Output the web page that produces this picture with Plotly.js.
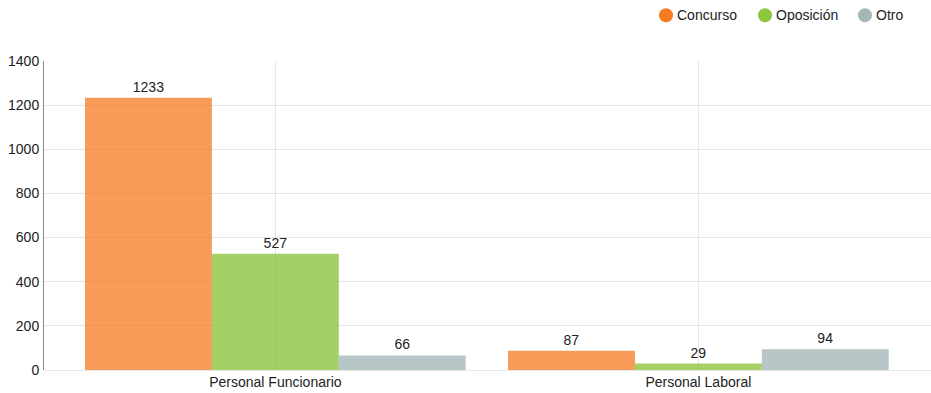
<!DOCTYPE html>
<html>
<head>
<meta charset="utf-8">
<script src="https://cdn.plot.ly/plotly-3.0.1.min.js"></script>
<style>html,body{margin:0;padding:0;background:#fff;}#chart{width:931px;height:393px;}</style>
</head>
<body>
<div id="chart"></div>
<script>
const categories = ["Personal Funcionario", "Personal Laboral"];
const seriesNames = ["Concurso", "Oposición", "Otro"];
const concurso = [1233, 87];
const oposicion = [527, 29];
const otro = [66, 94];
const barColors = ["rgba(244,123,32,0.75)", "rgba(141,198,63,0.8)", "rgba(165,184,184,0.8)"];
const legendColors = ["#f47b20", "#8dc63f", "#a5b8b8"];
const yTicks = [0, 200, 400, 600, 800, 1000, 1200, 1400];

const FONT = "Liberation Sans, Arial, sans-serif";
const W = 931, H = 393;
const M = {l: 44, r: 0, t: 61, b: 23};
const pw = W - M.l - M.r, ph = H - M.t - M.b;
const px2x = p => (p - M.l) / pw;
const py2y = p => (H - M.b - p) / ph;

const values = [concurso, oposicion, otro];
const traces = values.map((v, i) => ({
  type: "bar", x: categories, y: v, name: seriesNames[i],
  marker: {color: barColors[i], line: {width: 0}},
  text: v.map(String), textposition: "outside", cliponaxis: false,
  textfont: {family: FONT, size: 14, color: "#222"},
  showlegend: false, hoverinfo: "x+y"
}));

// legend drawn as circles + text
const legendCircleX = [666, 765, 865];
const legendY = 15.3;
const shapes = [], annotations = [];
seriesNames.forEach((n, i) => {
  shapes.push({type: "circle", xref: "paper", yref: "paper",
    xsizemode: "pixel", ysizemode: "pixel",
    xanchor: px2x(legendCircleX[i]), yanchor: py2y(legendY),
    x0: -7, x1: 7, y0: -7, y1: 7,
    fillcolor: legendColors[i], line: {width: 0}});
  annotations.push({xref: "paper", yref: "paper", x: px2x(legendCircleX[i] + 9), y: py2y(legendY),
    xanchor: "left", yanchor: "middle", showarrow: false, text: n,
    font: {family: FONT, size: 14, color: "#222"}});
});

const layout = {
  width: W, height: H,
  margin: M,
  paper_bgcolor: "#fff", plot_bgcolor: "#fff",
  font: {family: FONT, size: 14, color: "#222"},
  barmode: "group", bargap: 0.1, bargroupgap: 0,
  showlegend: false,
  shapes: shapes, annotations: annotations,
  xaxis: {type: "category", range: [-0.547, 1.55], showgrid: true, gridcolor: "#e6e6e6",
          ticks: "", showline: false, zeroline: false, ticklabelstandoff: 2,
          tickfont: {size: 14, color: "#222"}},
  yaxis: {range: [0, 1400], tickvals: yTicks, showgrid: true, gridcolor: "#e6e6e6",
          showline: true, linecolor: "#888", linewidth: 1, zeroline: true, zerolinecolor: "#e6e6e6",
          ticks: "", ticklabelstandoff: 1, tickfont: {size: 14, color: "#222"}}
};
Plotly.newPlot("chart", traces, layout, {displayModeBar: false, staticPlot: true});
</script>
</body>
</html>
